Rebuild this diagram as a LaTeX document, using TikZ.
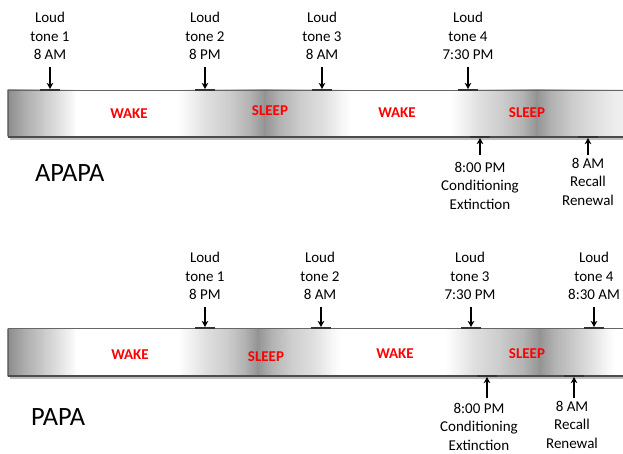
\documentclass[tikz,border=0pt]{standalone}
\usepackage{fontspec}
\setmainfont{Carlito}
\usetikzlibrary{arrows.meta}

\tikzset{
  tone/.style={align=center, inner sep=0pt, font=\fontsize{15}{18.5}\selectfont},
  phase/.style={inner sep=0pt, anchor=base, text=red, font=\fontsize{15}{18}\selectfont\bfseries},
  proto/.style={inner sep=0pt, anchor=base west, font=\fontsize{26.4}{30}\selectfont},
  arr/.style={line width=1.3pt, shorten >=1pt, -{Stealth[length=6pt,width=6.5pt,inset=1.5pt]}},
  tick/.style={line width=2.4pt, draw=black!80},
  rim/.style={draw=black!60, line width=0.8pt},
  base rim/.style={draw=black!70, line width=1.2pt},
  drop/.style={draw=black!25, line width=2pt},
}

% grey band: #1 = top y, #2 = bottom y, #3 = list of x/white-percentage stops
\newcommand\timebar[3]{%
  \foreach \x/\g [remember=\x as \px (initially 8), remember=\g as \pg (initially 55)] in {#3}{%
    \fill[left color=white!\pg!black, right color=white!\g!black]
      (\px-0.4,#1) rectangle (\x,#2);
  }%
}

\begin{document}
\begin{tikzpicture}[x=1pt,y=-1pt]
\useasboundingbox (0,0) rectangle (623,454);

%% ---------------- APAPA ----------------
\timebar{90}{137}{25/68,45/80,62/90,77/100,
  177/100,190/95,205/88,230/80,250/70,265/58,280/70,300/80,325/88,343/97,352/100,
  450/100,463/95,478/88,503/80,523/70,537/58,552/70,572/80,597/88,615/93,623/94}
\draw[drop] (10,138.6) -- (623,138.6);
\draw[rim] (623,90) -- (8,90) -- (8,137);
\draw[base rim] (8,137) -- (623,137);

\node[proto] (apapa) at (35,182) {APAPA};

\node[phase] (w1) at (129,119) {WAKE};
\node[phase] (s1) at (270,116) {SLEEP};
\node[phase] (w2) at (397,118) {WAKE};
\node[phase] (s2) at (527,118) {SLEEP};

\coordinate (ma1) at (50,90);
\coordinate (ma2) at (205,90);
\coordinate (ma3) at (322,90);
\coordinate (ma4) at (468,90);
\coordinate (ma5) at (480,137);
\coordinate (ma6) at (588,137);
\foreach \m in {ma1,ma2,ma3,ma4,ma5,ma6}
  \draw[tick] ([xshift=-10pt]\m) -- ([xshift=10pt]\m);

\node[tone, anchor=south] (ta1) at (50,60)  {Loud\\tone 1\\8 AM};
\node[tone, anchor=south] (ta2) at (205,60) {Loud\\tone 2\\8 PM};
\node[tone, anchor=south] (ta3) at (322,60) {Loud\\tone 3\\8 AM};
\node[tone, anchor=south] (ta4) at (468,60) {Loud\\tone 4\\7:30 PM};
\node[tone, anchor=north] (ca1) at (480,162) {8:00 PM\\Conditioning\\Extinction};
\node[tone, anchor=north] (ra1) at (588,158) {8 AM\\Recall\\Renewal};

\foreach \t/\m in {ta1/ma1,ta2/ma2,ta3/ma3,ta4/ma4}
  \draw[arr] ([yshift=-7pt]\t.south -| \m) -- (\m);
\draw[arr] ([yshift=7pt]ca1.north -| ma5) -- (ma5);
\draw[arr] ([yshift=3pt]ra1.north -| ma6) -- (ma6);

%% ---------------- PAPA ----------------
\timebar{328}{376}{25/68,45/80,62/90,77/100,
  178/100,190/95,205/88,228/80,245/70,258/58,272/70,290/80,315/88,333/97,342/100,
  445/100,458/95,473/88,500/80,524/70,540/58,555/70,575/80,595/90,608/97,615/100,623/100}
\draw[drop] (10,377.6) -- (623,377.6);
\draw[rim] (623,328) -- (8,328) -- (8,376);
\draw[base rim] (8,376) -- (623,376);

\node[proto] (papa) at (31,425) {PAPA};

\node[phase] (w3) at (130,359) {WAKE};
\node[phase] (s3) at (266,361) {SLEEP};
\node[phase] (w4) at (395,358) {WAKE};
\node[phase] (s4) at (527,358) {SLEEP};

\coordinate (mb1) at (205,328);
\coordinate (mb2) at (321,328);
\coordinate (mb3) at (471,328);
\coordinate (mb4) at (594,328);
\coordinate (mb5) at (487,376);
\coordinate (mb6) at (574,376);
\foreach \m in {mb1,mb2,mb3,mb4,mb5,mb6}
  \draw[tick] ([xshift=-10pt]\m) -- ([xshift=10pt]\m);

\node[tone, anchor=south] (tb1) at (205,300) {Loud\\tone 1\\8 PM};
\node[tone, anchor=south] (tb2) at (320,300) {Loud\\tone 2\\8 AM};
\node[tone, anchor=south] (tb3) at (470,300) {Loud\\tone 3\\7:30 PM};
\node[tone, anchor=south] (tb4) at (594,300) {Loud\\tone 4\\8:30 AM};
\node[tone, anchor=north] (cb1) at (479,403) {8:00 PM\\Conditioning\\Extinction};
\node[tone, anchor=north] (rb1) at (572,401) {8 AM\\Recall\\Renewal};

\foreach \t/\m in {tb1/mb1,tb2/mb2,tb3/mb3,tb4/mb4}
  \draw[arr] ([yshift=-7pt]\t.south -| \m) -- (\m);
\draw[arr] ([yshift=5pt]cb1.north -| mb5) -- (mb5);
\draw[arr] ([yshift=3pt]rb1.north -| mb6) -- (mb6);
\end{tikzpicture}
\end{document}
